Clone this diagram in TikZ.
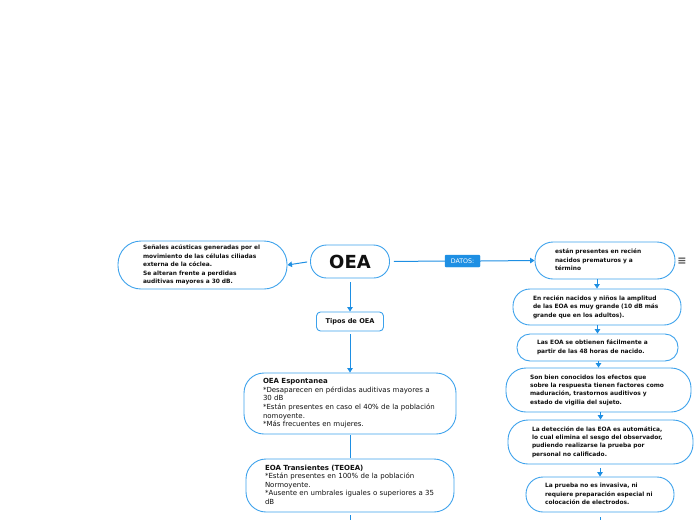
\documentclass[tikz,border=0pt]{standalone}
\usepackage{fontspec}
\setmainfont{DejaVu Sans}
\usetikzlibrary{arrows.meta}
\definecolor{conn}{HTML}{1E8FE3}
\definecolor{bord}{HTML}{3DA2EC}
\definecolor{txt}{HTML}{111111}
\definecolor{menugray}{HTML}{555555}
\newcommand\tlines[1]{\begin{tabular}{@{}l@{}}#1\end{tabular}}
\begin{document}
\begin{tikzpicture}[x=1pt,y=-1pt,
  box/.style={draw=bord, line width=0.9pt, fill=white, inner sep=0pt, text=txt},
  bsmall/.style={font=\fontsize{5.9}{8.4}\selectfont\bfseries, align=left},
  reg/.style={font=\fontsize{7}{8.6}\selectfont, align=left},
  arr/.style={draw=conn, line width=1pt, -{Triangle[width=5.5pt,length=4.5pt]}},
  ln/.style={draw=conn, line width=1pt}]
\useasboundingbox (0,0) rectangle (696,520);

% central and left
\node[box, minimum width=79pt, minimum height=33pt, rounded corners=16pt,
      font=\fontsize{18}{20}\selectfont\bfseries] (oea) at (350,261.5) {OEA};
\node[box, bsmall, minimum width=169pt, minimum height=48pt, rounded corners=23pt, text width=119pt] (left) at (202.5,265)
  {\tlines{Señales acústicas generadas por el\\movimiento de las células ciliadas\\externa de la cóclea.\\Se alteran frente a perdidas\\auditivas mayores a 30 dB.}};
\node[box, minimum width=67pt, minimum height=19pt, rounded corners=4pt,
      font=\fontsize{6.6}{8}\selectfont\bfseries] (tipos) at (350,321.5) {Tipos de OEA};
\node[box, reg, minimum width=212pt, minimum height=61pt, rounded corners=20pt, text width=174pt] (esp) at (350,403.5)
  {\tlines{\textbf{OEA Espontanea}\\{}*Desaparecen en pérdidas auditivas mayores a\\30 dB\\{}*Están presentes en caso el 40\% de la población\\nomoyente.\\{}*Más frecuentes en mujeres.}};
\node[box, reg, minimum width=208pt, minimum height=53pt, rounded corners=20pt, text width=170pt] (trans) at (350,485.5)
  {\tlines{\textbf{EOA Transientes (TEOEA)}\\{}*Están presentes en 100\% de la población\\Normoyente.\\{}*Ausente en umbrales iguales o superiores a 35\\dB}};

% label
\node[fill=conn, draw=conn, rounded corners=1pt, inner sep=0pt, minimum width=35pt, minimum height=12pt,
      text=white, font=\fontsize{6.3}{7}\selectfont] (datos) at (462.5,261) {DATOS:};

% right column
\node[box, bsmall, minimum width=140pt, minimum height=37pt, rounded corners=18pt, text width=100pt] (r1) at (605,260.5)
  {\tlines{están presentes en recién\\nacidos prematuros y a\\término}};
\node[box, bsmall, minimum width=168pt, minimum height=36pt, rounded corners=17pt, text width=128pt] (r2) at (597,307)
  {\tlines{En recién nacidos y niños la amplitud\\de las EOA es muy grande (10 dB más\\grande que en los adultos).}};
\node[box, bsmall, minimum width=161pt, minimum height=27pt, rounded corners=13pt, text width=121pt] (r3) at (597.5,347.5)
  {\tlines{Las EOA se obtienen fácilmente a\\partir de las 48 horas de nacido.}};
\node[box, bsmall, minimum width=185pt, minimum height=44pt, rounded corners=20pt, text width=137pt] (r4) at (598.5,390)
  {\tlines{Son bien conocidos los efectos que\\sobre la respuesta tienen factores como\\maduración, trastornos auditivos y\\estado de vigilia del sujeto.}};
\node[box, bsmall, minimum width=185pt, minimum height=44pt, rounded corners=20pt, text width=137pt] (r5) at (600.5,442)
  {\tlines{La detección de las EOA es automática,\\lo cual elimina el sesgo del observador,\\pudiendo realizarse la prueba por\\personal no calificado.}};
\node[box, bsmall, minimum width=148pt, minimum height=35pt, rounded corners=17pt, text width=110pt] (r6) at (600,494.5)
  {\tlines{La prueba no es invasiva, ni\\requiere preparación especial ni\\colocación de electrodos.}};

\node[text=menugray, inner sep=0pt, font=\fontsize{11}{11}\selectfont\bfseries] (menu) at (682,261) {≡};

\coordinate (endc) at (350,520);
\coordinate (endr) at (600,520);

% connectors
\draw[arr, shorten <=3pt] (oea.west) -- (left.east);
\draw[ln, shorten <=4pt] (oea.east) -- (datos.west);
\draw[arr] (datos.east) -- (r1.west);
\draw[arr, shorten <=4pt] (oea.south) -- (tipos.north);
\draw[arr, shorten <=3pt] (tipos.south) -- (esp.north);
\draw[ln, shorten <=1pt, shorten >=1pt] (esp.south) -- (trans.north);
\draw[ln, shorten <=3pt] (trans.south) -- (endc);
\draw[arr] (r1.south -| r2.north) -- (r2.north);
\draw[arr] (r2.south -| r3.north) -- (r3.north);
\draw[arr] (r3.south -| r4.north) -- (r4.north);
\draw[arr] (r4.south -| r5.north) -- (r5.north);
\draw[arr, shorten <=4pt] (r5.south -| r6.north) -- (r6.north);
\draw[ln, shorten <=5pt] (r6.south) -- (endr);
\end{tikzpicture}
\end{document}
